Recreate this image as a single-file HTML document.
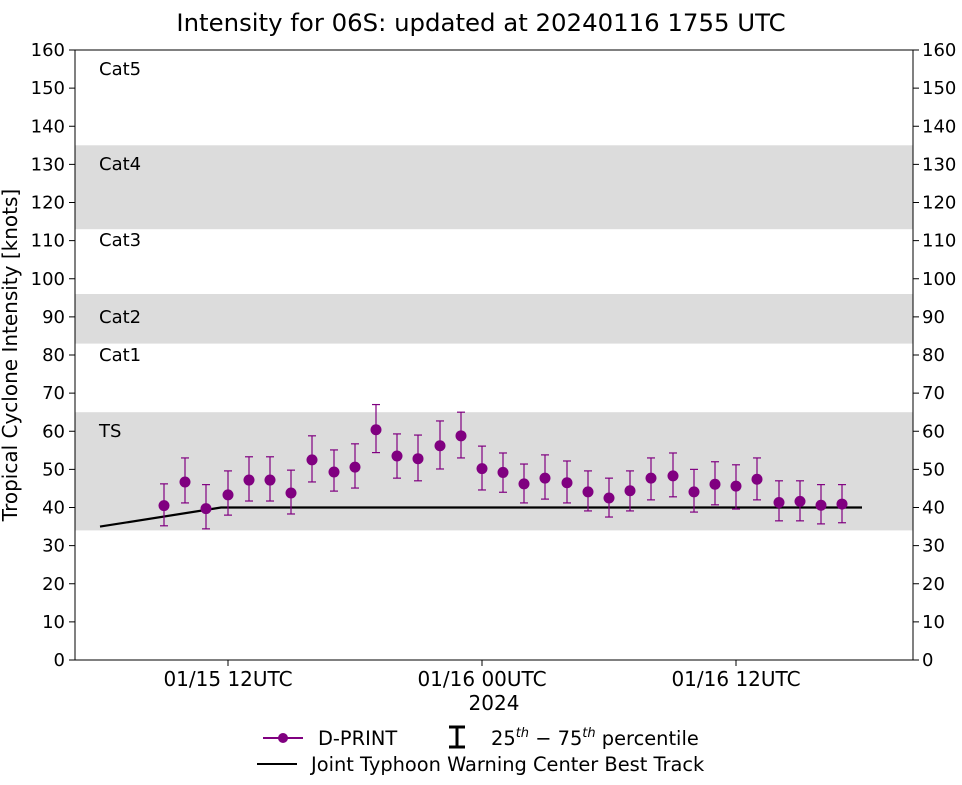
<!DOCTYPE html>
<html><head><meta charset="utf-8"><style>
body{margin:0;background:#fff;}
svg{display:block;font-family:"DejaVu Sans","Liberation Sans",sans-serif;}
</style></head><body>
<svg width="962" height="785" xmlns="http://www.w3.org/2000/svg">
<rect width="962" height="785" fill="#fff"/>
<rect x="75" y="145.3" width="838" height="83.9" fill="#dcdcdc"/>
<rect x="75" y="294" width="838" height="49.6" fill="#dcdcdc"/>
<rect x="75" y="412.2" width="838" height="118.2" fill="#dcdcdc"/>
<g font-size="18" fill="#000">
<text x="99" y="75">Cat5</text>
<text x="99" y="170">Cat4</text>
<text x="99" y="246">Cat3</text>
<text x="99" y="323">Cat2</text>
<text x="99" y="361">Cat1</text>
<text x="99" y="437">TS</text>
</g>
<polyline points="100,526.6 221,507.5 862,507.5" fill="none" stroke="#000" stroke-width="2.2"/>
<g id="dp" stroke="#800080" fill="#800080"></g>
<rect x="75" y="50" width="838" height="610" fill="none" stroke="#000" stroke-width="1"/>
<g id="ticks" font-size="18" fill="#000"></g>
<g font-size="20">
<text x="228" y="686" text-anchor="middle">01/15 12UTC</text>
<text x="482" y="686" text-anchor="middle">01/16 00UTC</text>
<text x="736" y="686" text-anchor="middle">01/16 12UTC</text>
<text x="494" y="710" text-anchor="middle">2024</text>
</g>
<line x1="228" y1="660" x2="228" y2="666" stroke="#000"/>
<line x1="482" y1="660" x2="482" y2="666" stroke="#000"/>
<line x1="736" y1="660" x2="736" y2="666" stroke="#000"/>
<text x="481" y="31" font-size="24.4" text-anchor="middle">Intensity for 06S: updated at 20240116 1755 UTC</text>
<text transform="translate(17,355) rotate(-90)" font-size="20" text-anchor="middle">Tropical Cyclone Intensity [knots]</text>
<line x1="263" y1="738" x2="303" y2="738" stroke="#800080" stroke-width="2"/>
<circle cx="283" cy="738" r="5" fill="#800080"/>
<text x="318" y="745" font-size="19.4">D-PRINT</text>
<g stroke="#000" stroke-width="3"><line x1="457" y1="727" x2="457" y2="747"/><line x1="449" y1="727" x2="465" y2="727"/><line x1="449" y1="747" x2="465" y2="747"/></g>
<text x="491" y="745" font-size="19.4">25<tspan font-size="13" dy="-8" font-style="italic">th</tspan><tspan dy="8"> − 75</tspan><tspan font-size="13" dy="-8" font-style="italic">th</tspan><tspan dy="8"> percentile</tspan></text>
<line x1="257" y1="764" x2="297" y2="764" stroke="#000" stroke-width="2"/>
<text x="311" y="771" font-size="19.4">Joint Typhoon Warning Center Best Track</text>
</svg>
<script>
var ns="http://www.w3.org/2000/svg";
function Y(k){return 660-k*3.8125;}
var xs=[164,185,206,228,249,270,291,312,334,355,376,397,418,440,461,482,503,524,545,567,588,609,630,651,673,694,715,736,757,779,800,821,842];
var v=[40.5,46.7,39.7,43.3,47.2,47.2,43.8,52.5,49.3,50.6,60.4,53.5,52.8,56.2,58.8,50.2,49.2,46.2,47.7,46.5,44.1,42.5,44.4,47.7,48.3,44.1,46.1,45.6,47.4,41.3,41.6,40.6,40.9];
var hi=[46.2,53,46,49.6,53.3,53.3,49.8,58.8,55.1,56.7,67,59.3,59,62.7,65,56.1,54.3,51.4,53.8,52.2,49.6,47.7,49.6,53,54.3,50,52,51.2,53,47,47,46,46];
var lo=[35.2,41.2,34.4,38,41.7,41.7,38.3,46.7,44.3,45.1,54.4,47.7,47,50.1,53,44.6,44,41.2,42.2,41.2,39.1,37.5,39.1,42,42.8,38.8,40.7,39.6,42,36.5,36.5,35.7,36];
var g=document.getElementById("dp");
function el(t,a,p){var e=document.createElementNS(ns,t);for(var k in a)e.setAttribute(k,a[k]);p.appendChild(e);return e;}
for(var i=0;i<xs.length;i++){var x=xs[i];
el("line",{x1:x,x2:x,y1:Y(hi[i]),y2:Y(lo[i]),"stroke-width":1.2},g);
el("line",{x1:x-4,x2:x+4,y1:Y(hi[i]),y2:Y(hi[i]),"stroke-width":1.2},g);
el("line",{x1:x-4,x2:x+4,y1:Y(lo[i]),y2:Y(lo[i]),"stroke-width":1.2},g);
el("circle",{cx:x,cy:Y(v[i]),r:5.5,stroke:"none"},g);}
var t=document.getElementById("ticks");
for(var k=0;k<=160;k+=10){var y=Y(k);
el("line",{x1:69,x2:75,y1:y,y2:y,stroke:"#000"},t);
el("line",{x1:913,x2:919,y1:y,y2:y,stroke:"#000"},t);
var a=el("text",{x:65,y:y+6,"text-anchor":"end"},t);a.textContent=k;
var b=el("text",{x:922,y:y+6},t);b.textContent=k;}
</script>
</body></html>
